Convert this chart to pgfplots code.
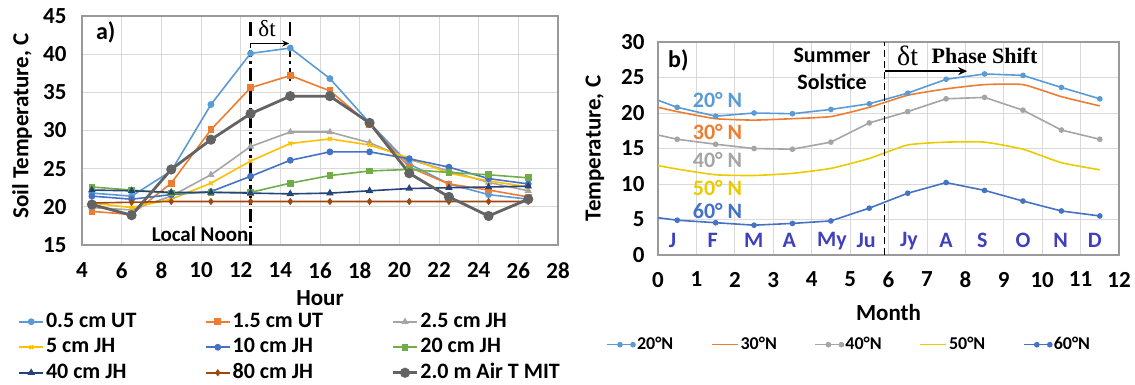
\documentclass[border=0pt]{standalone}
\usepackage{fontspec}
\setmainfont{Carlito}
\newfontfamily\timesf{Liberation Serif}
\usepackage{pgfplots}
\usepackage{pgfplotstable}
\pgfplotsset{compat=1.18}
\usetikzlibrary{arrows.meta}

\definecolor{cblue}{HTML}{5B9BD5}
\definecolor{corange}{HTML}{ED7D31}
\definecolor{cgray}{HTML}{A5A5A5}
\definecolor{cyellow}{HTML}{FFC000}
\definecolor{cyellowb}{HTML}{EBCB00}
\definecolor{cdblue}{HTML}{4472C4}
\definecolor{cgreen}{HTML}{70AD47}
\definecolor{cnavy}{HTML}{264478}
\definecolor{cbrown}{HTML}{9E480E}
\definecolor{cdgray}{HTML}{636363}
\definecolor{cmonth}{RGB}{64,64,190}
\definecolor{cgrid}{HTML}{D9D9D9}
\definecolor{cbox}{HTML}{9A9A9A}

\pgfplotstableread{
h    u05   u15   j25   j5    j10   j20   j40   j80   air
4.5  21.8  19.4  19.9  20.5  21.4  22.6  22.2  20.5  20.3
6.5  21.4  19.0  19.6  19.9  21.0  22.2  22.1  20.6  18.9
8.5  24.7  23.1  21.4  21.0  21.6  21.8  21.9  20.7  24.9
10.5 33.4  30.1  24.2  23.1  22.0  21.9  21.9  20.7  28.8
12.5 40.1  35.6  27.9  26.0  24.0  21.9  21.8  20.7  32.2
14.5 40.8  37.2  29.8  28.3  26.1  23.1  21.7  20.7  34.5
16.5 36.8  35.2  29.8  28.9  27.2  24.1  21.8  20.7  34.5
18.5 31.0  30.8  28.4  28.1  27.2  24.7  22.1  20.7  31.0
20.5 25.6  25.2  26.2  26.4  26.3  24.9  22.4  20.7  24.4
22.5 23.0  23.0  24.7  24.4  25.2  24.5  22.5  20.7  21.3
24.5 21.6  22.2  23.2  23.4  23.7  24.2  22.6  20.7  18.8
26.5 21.0  21.3  22.1  22.6  23.0  23.8  22.7  20.7  21.0
}\soil

\pgfplotstableread{
m     n20   n30   n40   n50   n60
0     21.8  20.8  16.9  12.6  5.25
0.5   20.8  20.2  16.3  12.1  4.9
1.5   19.55 19.2  15.6  11.3  4.55
2.5   20.0  19.0  15.0  11.2  4.2
3.5   19.9  19.2  14.9  11.5  4.45
4.5   20.5  19.5  15.9  12.2  4.8
5.5   21.3  20.8  18.6  13.6  6.6
6.5   22.8  22.5  20.2  15.5  8.7
7.5   24.75 23.4  22.0  15.9  10.2
8.5   25.5  24.0  22.2  15.9  9.1
9.5   25.3  24.0  20.4  14.9  7.6
10.5  23.6  22.3  17.6  13.0  6.2
11.5  22.0  21.0  16.3  12.0  5.5
}\lat

\pgfplotsset{
  panel/.style={
    scale only axis, anchor=south west,
    grid=major, grid style={cgrid, line width=0.8pt},
    axis line style={cbox, line width=1.4pt},
    tick style={draw=none},
    /pgf/number format/assume math mode=true,
    tick label style={font=\bfseries\fontsize{23}{27}\selectfont},
    label style={font=\bfseries\fontsize{23}{27}\selectfont},
    clip=false,
  },
}

\begin{document}
\begin{tikzpicture}
\useasboundingbox (0,0) rectangle (1135pt,384pt);

% ---------------- panel a ----------------
\begin{axis}[panel,
  at={(82pt,139pt)}, width=476pt, height=229pt,
  xmin=4, xmax=28, ymin=15, ymax=45,
  xtick={4,6,...,28}, ytick={15,20,...,45},
  xticklabel style={yshift=-14pt},
  yticklabel style={xshift=-12pt},
  xlabel={Hour}, ylabel={Soil Temperature, C},
  xlabel style={at={(axis description cs:0.5,-0.231)}, anchor=center},
  ylabel style={at={(axis description cs:-0.126,0.52)}, anchor=center},
  legend columns=3,
  legend cell align=left,
  legend image code/.code={\draw[mark repeat=2,mark phase=2] plot coordinates {(0pt,0pt) (12pt,0pt) (24pt,0pt)};},
  legend style={at={(axis description cs:-0.134,-0.284)}, anchor=north west,
    draw=none, fill=none, inner xsep=0pt, inner ysep=0pt, row sep=2.5pt,
    font=\bfseries\fontsize{22}{26}\selectfont,
    nodes={inner sep=2pt, text height=15pt, text depth=4pt}},
  every axis plot/.append style={line width=1.6pt},
]
\addplot[cblue, mark=*, mark size=2.6pt] table[x=h,y=u05]{\soil};
\addlegendentry{\makebox[157pt][l]{0.5 cm UT}}
\addplot[corange, mark=square*, mark size=2.6pt] table[x=h,y=u15]{\soil};
\addlegendentry{\makebox[157pt][l]{1.5 cm UT}}
\addplot[cgray, mark=triangle*, mark size=2.6pt] table[x=h,y=j25]{\soil};
\addlegendentry{\makebox[157pt][l]{2.5 cm JH}}
\addplot[cyellow, mark=x, mark size=2.6pt] table[x=h,y=j5]{\soil};
\addlegendentry{\makebox[157pt][l]{5 cm JH}}
\addplot[cdblue, mark=*, mark size=2.6pt] table[x=h,y=j10]{\soil};
\addlegendentry{\makebox[157pt][l]{10 cm JH}}
\addplot[cgreen, mark=square*, mark size=2.6pt] table[x=h,y=j20]{\soil};
\addlegendentry{\makebox[157pt][l]{20 cm JH}}
\addplot[cnavy, mark=triangle*, mark size=2.8pt] table[x=h,y=j40]{\soil};
\addlegendentry{\makebox[157pt][l]{40 cm JH}}
\addplot[cbrown, mark=diamond*, mark size=2.4pt] table[x=h,y=j80]{\soil};
\addlegendentry{\makebox[157pt][l]{80 cm JH}}
\addplot[cdgray, mark=*, mark size=3.6pt, line width=2.8pt] table[x=h,y=air]{\soil};
\addlegendentry{\makebox[157pt][l]{2.0 m Air T MIT}}

% annotations
\draw[black, line width=2.4pt, dash pattern=on 13pt off 4pt on 2.5pt off 4pt] (12.5,15) -- (12.5,40.6);
\draw[black, line width=2.4pt, dash pattern=on 13pt off 4pt on 2.5pt off 4pt] (14.5,36.5) -- (14.5,40.6);
\draw[black, line width=2.4pt] (12.5,42.4) -- (12.5,44.2);
\draw[black, line width=2.4pt] (14.5,42.4) -- (14.5,44.2);
\draw[black, line width=1.6pt, -{Stealth[length=7pt,width=6pt]}] (12.5,40.8) -- (12.5,41.4) -- (14.45,41.4);
\node[font=\timesf\fontsize{23}{27}\selectfont] at (13.33,43.3) {δt};
\node[font=\bfseries\fontsize{21}{25}\selectfont, anchor=east, inner sep=1pt] at (12.45,16.4) {Local Noon};
\node[font=\bfseries\fontsize{24}{28}\selectfont] at (5.2,42.8) {a)};
\end{axis}

% ---------------- panel b ----------------
\begin{axis}[panel,
  at={(658pt,129pt)}, width=461pt, height=213pt,
  xmin=0, xmax=12, ymin=0, ymax=30,
  xtick={0,1,...,12}, ytick={0,5,...,30},
  xticklabel style={yshift=-13.5pt},
  yticklabel style={xshift=-10pt},
  xlabel={Month}, ylabel={Temperature, C},
  xlabel style={at={(axis description cs:0.5,-0.272)}, anchor=center},
  ylabel style={at={(axis description cs:-0.137,0.50)}, anchor=center},
  legend columns=5,
  legend cell align=left,
  legend image code/.code={\draw[mark repeat=2,mark phase=2] plot coordinates {(0pt,0pt) (13pt,0pt) (26pt,0pt)};},
  legend style={at={(axis description cs:-0.1128,-0.372)}, anchor=north west,
    draw=none, fill=none, inner xsep=0pt, inner ysep=0pt,
    font=\bfseries\fontsize{18}{22}\selectfont,
    nodes={inner sep=2pt, text height=13pt, text depth=3.5pt}},
  every axis plot/.append style={line width=1.6pt},
]
\addplot[cblue, mark=*, mark size=2pt, mark indices={2,...,13}] table[x=m,y=n20]{\lat};
\addlegendentry{\makebox[72pt][l]{20°N}}
\addplot[corange, no marks, smooth, tension=0.3] table[x=m,y=n30]{\lat};
\addlegendentry{\makebox[72pt][l]{30°N}}
\addplot[cgray, mark=*, mark size=2pt, mark indices={2,...,13}] table[x=m,y=n40]{\lat};
\addlegendentry{\makebox[72pt][l]{40°N}}
\addplot[cyellowb, no marks, smooth, tension=0.3] table[x=m,y=n50]{\lat};
\addlegendentry{\makebox[72pt][l]{50°N}}
\addplot[cdblue, mark=*, mark size=2pt, mark indices={2,...,13}] table[x=m,y=n60]{\lat};
\addlegendentry{\makebox[72pt][l]{60°N}}

\draw[black, line width=1.6pt, dash pattern=on 7pt off 4pt] (5.9,0) -- (5.9,30);
\draw[black, line width=2.4pt, -{Stealth[length=9pt,width=8pt]}] (5.9,25.9) -- (8.05,25.9);
\node[font=\bfseries\fontsize{22}{26}\selectfont] at (4.53,28.1) {Summer};
\node[font=\bfseries\fontsize{22}{26}\selectfont] at (4.53,24.4) {Solstice};
\node[font=\timesf\fontsize{28}{32}\selectfont] at (6.5,28.0) {δt};
\node[font=\timesf\bfseries\fontsize{22}{26}\selectfont] at (8.5,28.0) {Phase Shift};
\node[font=\bfseries\fontsize{24}{28}\selectfont] at (0.53,27.4) {b)};
\begin{scope}[every node/.style={font=\bfseries\fontsize{22}{26}\selectfont}]
\node[text=cblue] at (1.55,21.9) {20° N};
\node[text=corange] at (1.55,17.3) {30° N};
\node[text=cgray] at (1.55,13.4) {40° N};
\node[text=cyellowb] at (1.55,9.5) {50° N};
\node[text=cdblue] at (1.55,6.2) {60° N};
\node[text=cmonth] at (0.38,2) {J};
\node[text=cmonth] at (1.42,2) {F};
\node[text=cmonth] at (2.49,2) {M};
\node[text=cmonth] at (3.42,2) {A};
\node[text=cmonth] at (4.53,2) {My};
\node[text=cmonth] at (5.42,2) {Ju};
\node[text=cmonth] at (6.53,2) {Jy};
\node[text=cmonth] at (7.5,2) {A};
\node[text=cmonth] at (8.44,2) {S};
\node[text=cmonth] at (9.5,2) {O};
\node[text=cmonth] at (10.48,2) {N};
\node[text=cmonth] at (11.37,2) {D};
\end{scope}
\end{axis}
\end{tikzpicture}
\end{document}
